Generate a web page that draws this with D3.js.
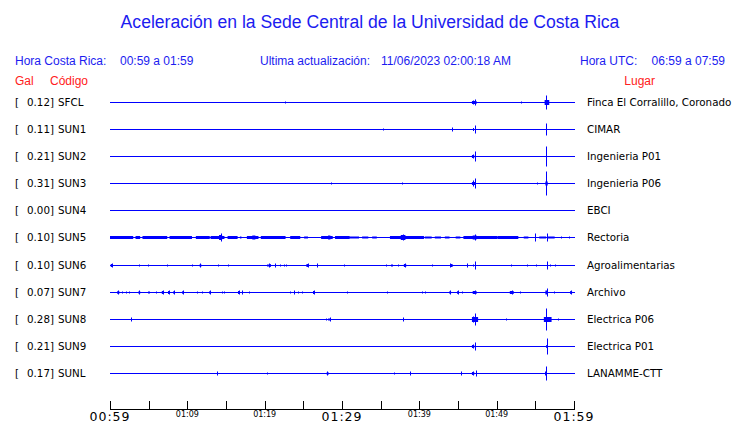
<!DOCTYPE html>
<html><head><meta charset="utf-8">
<script src="https://cdn.jsdelivr.net/npm/d3@7"></script>
<style>body{margin:0;background:#fff}svg{display:block}</style>
</head><body>
<script>
// ---- data ----
const stations = ["SFCL","SUN1","SUN2","SUN3","SUN4","SUN5","SUN6","SUN7","SUN8","SUN9","SUNL"];
const gal = [0.12,0.11,0.21,0.31,0.00,0.10,0.10,0.07,0.28,0.21,0.17];
const places = ["Finca El Corralillo, Coronado","CIMAR","Ingenieria P01","Ingenieria P06","EBCI","Rectoria","Agroalimentarias","Archivo","Electrica P06","Electrica P01","LANAMME-CTT"];
// spikes: [minute after 00:59, half amplitude]
const spikes = [
  [[22.6,1],[46.9,2],[47.2,3],[53.15,1],[56.38,7]],
  [[35.3,1],[44.19,2],[46.9,1.5],[47.2,4],[56.38,6]],
  [[46.9,2],[47.2,5],[56.38,10]],
  [[28.58,1],[37.76,1],[46.9,3],[47.2,5],[55.22,1],[56.38,12]],
  [],
  [[14.3,4],[37.9,3],[47.2,3],[55.0,4],[56.47,4],[58.3,1],[59.3,1]],
  [[0.2,2],[3.75,1],[4.88,1],[7.33,1],[10.64,1],[11.68,2],[14.0,1],[15.3,1],[20.26,1],[20.6,2],[21.34,2],[22.02,1],[22.54,1],[22.76,1],[25.57,2],[26.77,2],[30.26,1],[35.65,1],[36.3,1],[36.5,1],[37.28,1],[38.15,2],[41.6,1],[44.0,2],[46.17,2],[46.9,1],[47.24,4],[51.8,1],[53.9,1],[55.1,1],[56.47,4],[56.9,1],[57.58,1]],
  [[1.07,2],[1.5,1],[2.07,1],[2.46,1],[3.79,2],[4.88,1],[5.08,1],[5.95,1],[6.81,2],[7.59,2],[8.28,2],[9.44,2],[11.21,1],[11.9,1],[12.93,2],[14.44,1],[14.74,1],[16.64,2],[17.07,2],[18.01,1],[23.32,1],[23.79,2],[24.31,1],[24.87,1],[26.34,2],[30.71,1],[35.78,1],[40.39,1],[40.73,1],[43.97,2],[44.96,2],[45.48,1],[47.16,2],[51.95,2],[53.02,1],[56.47,4],[57.38,1],[59.61,2]],
  [[2.75,2],[27.93,1],[28.45,2],[37.93,2],[46.9,3],[47.24,6],[51.21,1],[56.38,11],[57.97,1]],
  [[46.9,2],[47.24,4],[56.47,8]],
  [[13.88,2],[20.34,1],[28.1,2],[36.76,1],[38.83,2],[45.43,2],[46.9,2],[47.33,3],[56.38,7]]
];
// bursts: [start minute, end minute, half amplitude]
const bursts = [
  [[46.8,47.4,1.5],[56.2,56.8,2.5]],
  [],
  [[46.8,47.1,1.5]],
  [[46.8,47.3,1.5],[56.3,56.6,2]],
  [],
  [[0.0,3.0,1.5],[3.3,3.9,1.5],[4.2,7.4,1.5],[7.7,10.6,1.5],[11.1,12.9,1.5],[13.0,14.8,1.5],[14.1,14.5,2.5],[15.2,16.5,1.5],[16.8,17.0,1],[17.7,19.2,1.5],[18.4,18.8,2],[19.5,22.7,1.5],[23.3,24.6,1.5],[25.1,25.6,1],[27.3,28.8,1.5],[28.2,28.5,2],[29.1,31.0,1.5],[31.0,32.2,1],[32.6,33.4,1],[33.9,34.5,1],[36.2,37.5,1.5],[37.5,40.6,1.5],[37.6,38.2,2.5],[40.7,41.6,1],[42.0,42.8,1],[43.3,43.9,1],[44.7,45.3,1],[45.7,50.1,1.5],[46.9,47.4,2],[50.1,52.8,1.5],[53.5,54.1,1],[55.5,56.4,1],[56.5,57.5,1]],
  [[0.1,0.35,1.5],[11.6,11.8,1.5],[20.5,20.8,1.5],[25.4,25.7,1.5],[38.0,38.3,1.5],[44.0,44.3,1.5]],
  [[0.95,1.2,1.5],[3.7,3.9,1.5],[6.7,6.95,1.5],[7.5,7.7,1.5],[8.2,8.4,1.5],[9.35,9.55,1.5],[12.85,13.05,1.5],[16.55,16.75,1.5],[26.25,26.45,1.5],[43.9,44.1,1.5],[44.9,45.1,1.5],[46.9,47.4,1.5],[51.7,52.2,1.5],[56.3,56.6,2],[59.5,59.75,1.5]],
  [[46.8,47.6,2.5],[56.1,57.1,2.5],[28.2,28.5,1]],
  [[46.8,47.1,1.5],[56.4,56.6,1.5]],
  [[28.0,28.3,1],[46.8,47.1,1.5],[56.25,56.5,2]]
];
const tickMinutes = [0,5,10,15,20,25,30,35,40,45,50,55,60];
const tickLabels = ["00:59","01:09","01:19","01:29","01:39","01:49","01:59"];
const majorLabels = ["00:59","01:29","01:59"];

// ---- drawing ----
const W = 740, H = 423;
const svg = d3.select("body").append("svg").attr("width", W).attr("height", H);
const x = d3.scaleLinear().domain([0,60]).range([110,574]);
const y = d3.scaleBand().domain(stations).range([88.5,386.5]);
const amp = d3.scaleLinear().domain([0,1]).range([0,1]);
const blue = "#0000ff";
const hblue = "#1c1cf0";
const sans = "'Liberation Sans', Arial, sans-serif";
const dv = "'DejaVu Sans', sans-serif";

svg.append("text").attr("x",370).attr("y",28).attr("text-anchor","middle")
  .attr("font-family",sans).attr("font-size",17.6).attr("fill",hblue)
  .text("Aceleración en la Sede Central de la Universidad de Costa Rica");

const hdr = svg.append("g").attr("font-family",sans).attr("font-size",12).attr("fill",hblue);
hdr.append("text").attr("x",15).attr("y",65).text("Hora Costa Rica:");
hdr.append("text").attr("x",120).attr("y",65).text("00:59 a 01:59");
hdr.append("text").attr("x",260).attr("y",65).text("Ultima actualización:");
hdr.append("text").attr("x",381).attr("y",65).text("11/06/2023 02:00:18 AM");
hdr.append("text").attr("x",580).attr("y",65).text("Hora UTC:");
hdr.append("text").attr("x",725).attr("y",65).attr("text-anchor","end").text("06:59 a 07:59");

const red = svg.append("g").attr("font-family",sans).attr("font-size",12).attr("fill","#ff2020");
red.append("text").attr("x",15).attr("y",85).text("Gal");
red.append("text").attr("x",50).attr("y",85).text("Código");
red.append("text").attr("x",655).attr("y",85).attr("text-anchor","end").text("Lugar");

const rows = svg.append("g").selectAll("g").data(stations).join("g")
  .attr("transform", d => `translate(0,${Math.round(y(d)+y.bandwidth()/2)+0.5})`);

const fs = 10.3;
rows.append("text").attr("x",15).attr("y",3.5).attr("font-family",dv).attr("font-size",fs).text("[");
rows.append("text").attr("x",54).attr("y",3.5).attr("text-anchor","end").attr("font-family",dv).attr("font-size",fs)
  .text((d,i) => gal[i].toFixed(2) + "]");
rows.append("text").attr("x",58).attr("y",3.5).attr("font-family",dv).attr("font-size",fs).text(d => d);
rows.append("text").attr("x",587).attr("y",3.5).attr("font-family",dv).attr("font-size",fs).text((d,i) => places[i]);

rows.append("line").attr("x1",x(0)).attr("x2",x(60)+1).attr("y1",0).attr("y2",0)
  .attr("stroke",blue).attr("stroke-width",1);

rows.each(function(d,i){
  const g = d3.select(this);
  g.selectAll("rect.b").data(bursts[i]).join("rect").attr("class","b")
    .attr("x", b => x(b[0])).attr("width", b => Math.max(1, x(b[1])-x(b[0])))
    .attr("y", b => -amp(b[2])).attr("height", b => 2*amp(b[2]))
    .attr("fill", blue);
  g.selectAll("line.s").data(spikes[i]).join("line").attr("class","s")
    .attr("x1", s => Math.round(x(s[0]))+0.5).attr("x2", s => Math.round(x(s[0]))+0.5)
    .attr("y1", s => -amp(s[1])).attr("y2", s => amp(s[1]))
    .attr("stroke", blue).attr("stroke-width",1);
});

// axis
const ax = svg.append("g");
ax.append("line").attr("x1",x(0)).attr("x2",x(60)+1).attr("y1",409.5).attr("y2",409.5).attr("stroke","#000");
ax.selectAll("line.t").data(tickMinutes).join("line").attr("class","t")
  .attr("x1", m => Math.round(x(m))+0.5).attr("x2", m => Math.round(x(m))+0.5)
  .attr("y1",401).attr("y2",409.5).attr("stroke","#000");
ax.selectAll("text").data(tickLabels).join("text")
  .attr("x",(d,i) => x(i*10)).attr("text-anchor","middle")
  .attr("y", d => majorLabels.includes(d) ? 421 : 417)
  .attr("font-family",dv)
  .attr("font-size", d => majorLabels.includes(d) ? 12.5 : 8)
  .attr("letter-spacing", d => majorLabels.includes(d) ? 1 : 0)
  .text(d => d);
</script>
</body></html>
